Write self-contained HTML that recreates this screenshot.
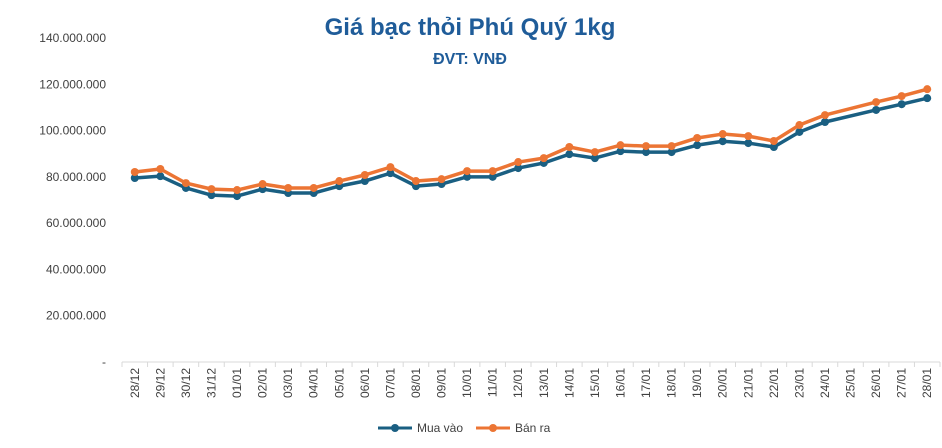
<!DOCTYPE html>
<html><head><meta charset="utf-8"><style>
body{margin:0;background:#fff;width:942px;height:443px;overflow:hidden;font-family:"Liberation Sans",sans-serif}
</style></head><body>
<svg id="c" width="942" height="443">
<text x="470" y="35" text-anchor="middle" font-size="24" font-weight="bold" fill="#1f5c99">Giá bạc thỏi Phú Quý 1kg</text>
<text x="470" y="64" text-anchor="middle" font-size="16" font-weight="bold" fill="#1f5c99">ĐVT: VNĐ</text>
<g id="yaxis"></g><g id="xaxis"></g><g id="series"></g>
<g>
<g><line x1="378" y1="428" x2="412" y2="428" stroke="#1a5f82" stroke-width="3"/><circle cx="395" cy="428" r="4" fill="#1a5f82"/><text x="417" y="432" font-size="12" fill="#404040">Mua vào</text></g>
<g><line x1="476" y1="428" x2="510" y2="428" stroke="#ec7534" stroke-width="3"/><circle cx="493" cy="428" r="4" fill="#ec7534"/><text x="515" y="432" font-size="12" fill="#404040">Bán ra</text></g>
</g>
</svg>
<script>
const categories=["28/12","29/12","30/12","31/12","01/01","02/01","03/01","04/01","05/01","06/01","07/01","08/01","09/01","10/01","11/01","12/01","13/01","14/01","15/01","16/01","17/01","18/01","19/01","20/01","21/01","22/01","23/01","24/01","25/01","26/01","27/01","28/01"];
const muaVao=[79.5,80.3,75.2,72.1,71.7,74.7,73,73,76,78.2,81.6,76,76.9,80,80,83.8,86,89.8,88.1,91.1,90.7,90.7,93.7,95.4,94.6,92.9,99.4,103.7,null,108.9,111.4,114];
const banRa=[82.1,83.4,77.3,74.7,74.3,76.9,75.2,75.2,78.2,80.8,84.2,78.2,79,82.5,82.5,86.4,88.1,92.9,90.7,93.7,93.3,93.3,96.8,98.5,97.6,95.5,102.4,106.7,null,112.3,114.9,117.9];
const yTicks=[0,20,40,60,80,100,120,140];
const yTickLabels=["-","20.000.000","40.000.000","60.000.000","80.000.000","100.000.000","120.000.000","140.000.000"];
const NS="http://www.w3.org/2000/svg";
const x0=122,x1=940,yb=362,yt=38;
const X=i=>x0+(i+0.5)*(x1-x0)/categories.length;
const Y=v=>yb-(v/140)*(yb-yt);
function mk(t,a,p){const e=document.createElementNS(NS,t);for(const k in a)e.setAttribute(k,a[k]);p.appendChild(e);return e;}
const ya=document.getElementById('yaxis');
yTicks.forEach((v,i)=>{const t=mk('text',{x:106,y:Y(v)+4,'text-anchor':'end','font-size':12,fill:'#404040'},ya);t.textContent=yTickLabels[i];

});
const xa=document.getElementById('xaxis');
const ax=mk('line',{x1:x0,y1:yb,x2:x1,y2:yb,stroke:'#d9d9d9'},xa);


const w=(x1-x0)/categories.length;
categories.forEach((c,i)=>{mk('line',{x1:x0+i*w,y1:yb,x2:x0+i*w,y2:yb+5,stroke:'#d9d9d9'},xa);
const t=mk('text',{transform:`translate(${X(i)+4},${yb+6}) rotate(-90)`,'text-anchor':'end','font-size':12,fill:'#404040'},xa);t.textContent=c;

});
mk('line',{x1:x1,y1:yb,x2:x1,y2:yb+5,stroke:'#d9d9d9'},xa);
const sg=document.getElementById('series');
function series(vals,col,name){
  const pts=[];vals.forEach((v,i)=>{if(v!=null)pts.push([X(i),Y(v)]);});
  const p=mk('polyline',{points:pts.map(p=>p.join(',')).join(' '),fill:'none',stroke:col,'stroke-width':3.5,'stroke-linejoin':'round'},sg);
  
  
  pts.forEach(q=>{const c=mk('circle',{cx:q[0],cy:q[1],r:4,fill:col},sg);
  
  });
}
series(muaVao,'#1a5f82','mua-vao');
series(banRa,'#ec7534','ban-ra');
</script>
</body></html>
